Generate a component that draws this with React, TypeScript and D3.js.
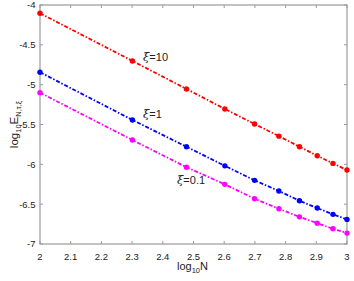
import React from "react";
import * as d3 from "d3";

const logN = [2, 2.30103, 2.47712, 2.60206, 2.69897, 2.77815, 2.84510, 2.90309, 2.95424, 3];
const xi10 = [-4.104, -4.702, -5.054, -5.305, -5.494, -5.646, -5.779, -5.892, -5.988, -6.072];
const xi1 = [-4.844, -5.443, -5.779, -6.019, -6.201, -6.335, -6.457, -6.549, -6.628, -6.691];
const xi01 = [-5.100, -5.695, -6.036, -6.251, -6.432, -6.558, -6.659, -6.738, -6.809, -6.863];
const xTicks = [2, 2.1, 2.2, 2.3, 2.4, 2.5, 2.6, 2.7, 2.8, 2.9, 3];
const yTicks = [-7, -6.5, -6, -5.5, -5, -4.5, -4];

const series = [
  { name: "10", values: xi10, color: "#ff0000" },
  { name: "1", values: xi1, color: "#0000ff" },
  { name: "0.1", values: xi01, color: "#ff00ff" },
];

const W = 354, H = 281;
const L = 40, R = 347, T = 5, B = 244;

export default function App() {
  const x = d3.scaleLinear().domain([2, 3]).range([L, R]);
  const y = d3.scaleLinear().domain([-7, -4]).range([B, T]);
  const line = d3.line<number>().x((_, i) => x(logN[i])).y((d) => y(d));
  const font = "Liberation Sans, Arial, sans-serif";
  const axisColor = "#9a9a9a";
  const labels = [
    { text: "10", x: 143, y: 61 },
    { text: "1", x: 143, y: 118 },
    { text: "0.1", x: 177, y: 184 },
  ];
  return (
    <svg width={W} height={H} style={{ position: "absolute", left: 0, top: 0, background: "#fff" }}>
      <rect x={0} y={0} width={W} height={H} fill="#fff" />
      {xTicks.map((t) => (
        <g key={"x" + t}>
          <line x1={x(t)} x2={x(t)} y1={B} y2={B - 3} stroke={axisColor} />
          <line x1={x(t)} x2={x(t)} y1={T} y2={T + 3} stroke={axisColor} />
          <text x={x(t)} y={259.5} fontSize={9.5} fontFamily={font} textAnchor="middle" fill="#222">
            {String(t)}
          </text>
        </g>
      ))}
      {yTicks.map((t) => (
        <g key={"y" + t}>
          <line x1={L} x2={L + 3} y1={y(t)} y2={y(t)} stroke={axisColor} />
          <line x1={R} x2={R - 3} y1={y(t)} y2={y(t)} stroke={axisColor} />
          <text x={35.5} y={y(t) + 3.4} fontSize={9.5} fontFamily={font} textAnchor="end" fill="#222">
            {String(t)}
          </text>
        </g>
      ))}
      <rect x={L} y={T} width={R - L} height={B - T} fill="none" stroke={axisColor} strokeWidth={1.2} />
      {series.map((s) => (
        <g key={s.name}>
          <path d={line(s.values) || ""} fill="none" stroke={s.color} strokeWidth={1.8} strokeDasharray="4,1.8,1.5,1.8" />
          {s.values.map((v, i) => (
            <circle key={i} cx={x(logN[i])} cy={y(v)} r={2.7} fill={s.color} />
          ))}
        </g>
      ))}
      {labels.map((l) => (
        <text key={l.text} x={l.x} y={l.y} fontSize={11} fontFamily={font} fill="#222">
          <tspan fontStyle="italic" fontFamily="DejaVu Serif, serif" fontSize={11.5}>ξ</tspan>
          <tspan>={l.text}</tspan>
        </text>
      ))}
      <text x={177} y={270} fontSize={11} fontFamily={font} fill="#222">
        log<tspan fontSize={7.5} dy={3}>10</tspan><tspan dy={-3}>N</tspan>
      </text>
      <text transform={`translate(18, ${(T + B) / 2}) rotate(-90)`} textAnchor="middle" fontSize={11.5} fontFamily={font} fill="#222">
        log<tspan fontSize={7.5} dy={3}>10</tspan><tspan dy={-3}>E</tspan>
        <tspan fontSize={7.5} dy={3}>N,τ,ξ</tspan>
      </text>
    </svg>
  );
}
